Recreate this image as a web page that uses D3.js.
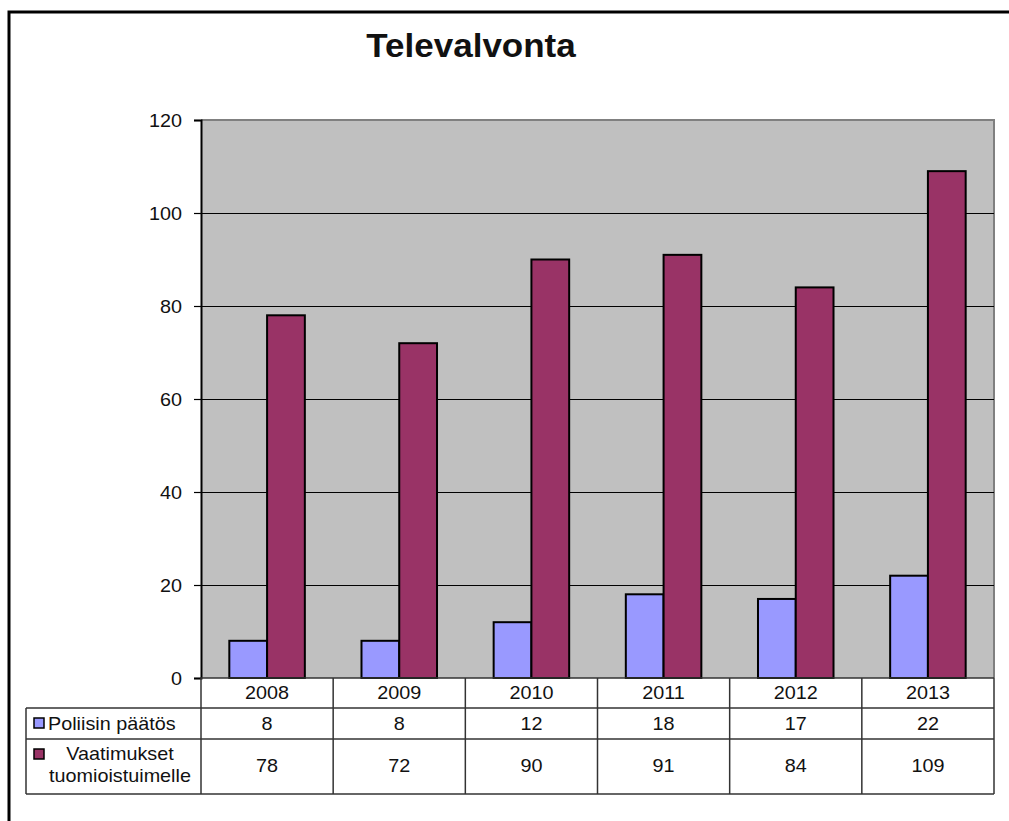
<!DOCTYPE html>
<html>
<head>
<meta charset="utf-8">
<script src="https://cdn.jsdelivr.net/npm/d3@7"></script>
<style>
  html, body { margin: 0; padding: 0; background: #fff; }
  svg { display: block; }
  text { font-family: "Liberation Sans", Arial, sans-serif; fill: #111; }
</style>
</head>
<body>
<svg id="chart" width="1009" height="821"></svg>
<script>
const title = "Televalvonta";
const categories = ["2008", "2009", "2010", "2011", "2012", "2013"];
const seriesNames = ["Poliisin päätös", "Vaatimukset tuomioistuimelle"];
const poliisin = [8, 8, 12, 18, 17, 22];
const vaatimukset = [78, 72, 90, 91, 84, 109];
const yTicks = [0, 20, 40, 60, 80, 100, 120];
const colors = ["#9999FF", "#993366"];

const svg = d3.select("#chart");
const plot = { left: 201, right: 994, top: 120, bottom: 678 };
const FS = 18, SX = 1.1;

function txt(g, x, y, s, anchor, size, weight, sx) {
  return g.append("text")
    .attr("transform", `translate(${x},${y}) scale(${sx || SX},1)`)
    .attr("text-anchor", anchor || "middle")
    .style("font-size", (size || FS) + "px")
    .style("font-weight", weight || "normal")
    .text(s);
}

// outer frame
svg.append("path").attr("d", "M9,821 V12 H1009").attr("fill", "none")
  .attr("stroke", "#000").attr("stroke-width", 3);

// title
txt(svg, 471, 57, title, "middle", 34, "bold", 1.03);

const x0 = d3.scaleBand().domain(categories).range([plot.left, plot.right]);
const bw = x0.bandwidth() / 3.5;
const x1 = d3.scaleBand().domain(seriesNames).range([0, 2 * bw]);
const y = d3.scaleLinear().domain([0, 120]).range([plot.bottom, plot.top]);

// plot area
svg.append("rect").attr("x", plot.left).attr("y", plot.top)
  .attr("width", plot.right - plot.left).attr("height", plot.bottom - plot.top)
  .attr("fill", "#C0C0C0");
svg.append("path").attr("d", `M${plot.left},${plot.top} H${plot.right} V${plot.bottom}`)
  .attr("fill", "none").attr("stroke", "#808080").attr("stroke-width", 2);

// gridlines
svg.append("g").selectAll("line").data(yTicks.filter(t => t > 0 && t < 120)).join("line")
  .attr("x1", plot.left).attr("x2", plot.right)
  .attr("y1", d => y(d) + 0.5).attr("y2", d => y(d) + 0.5)
  .attr("stroke", "#000").attr("stroke-width", 1)
  .attr("shape-rendering", "crispEdges");

// y axis
const yAxis = d3.axisLeft(y).tickValues(yTicks).tickSize(7).tickPadding(12).tickFormat(d3.format("d"));
const ga = svg.append("g").attr("transform", `translate(${plot.left},0)`).call(yAxis);
ga.select(".domain").attr("stroke", "#000").attr("stroke-width", 2);
ga.selectAll(".tick line").attr("stroke", "#000").attr("stroke-width", 1.2);
ga.selectAll(".tick text").remove();
ga.selectAll(".tick").each(function(d) {
  txt(d3.select(this), -19, 6, String(d), "end");
});

// bars
const series = [poliisin, vaatimukset];
series.forEach((vals, si) => {
  svg.append("g").selectAll("rect").data(vals).join("rect")
    .attr("x", (d, i) => x0(categories[i]) + x0.bandwidth() / 2 - bw + x1(seriesNames[si]))
    .attr("y", d => y(d))
    .attr("width", bw)
    .attr("height", d => y(0) - y(d))
    .attr("fill", colors[si])
    .attr("stroke", "#000").attr("stroke-width", 2);
});

// data table
const rows = [678, 708, 739, 794];
const tbl = svg.append("g");
const lineCol = "#333";
tbl.append("line").attr("x1", plot.left).attr("x2", plot.right).attr("y1", rows[0]).attr("y2", rows[0])
  .attr("stroke", lineCol).attr("stroke-width", 1.5);
[rows[1], rows[2], rows[3]].forEach(r => {
  tbl.append("line").attr("x1", 26).attr("x2", plot.right).attr("y1", r).attr("y2", r)
    .attr("stroke", lineCol).attr("stroke-width", 1.5);
});
const colEdges = categories.map(c => x0(c)).concat([plot.right]);
colEdges.forEach(xv => {
  tbl.append("line").attr("x1", xv).attr("x2", xv).attr("y1", rows[0]).attr("y2", rows[3])
    .attr("stroke", lineCol).attr("stroke-width", 1.5);
});
tbl.append("line").attr("x1", 26).attr("x2", 26).attr("y1", rows[1]).attr("y2", rows[3])
  .attr("stroke", lineCol).attr("stroke-width", 1.5);

categories.forEach(c => txt(tbl, x0(c) + x0.bandwidth() / 2, 699, c));
poliisin.forEach((v, i) => txt(tbl, x0(categories[i]) + x0.bandwidth() / 2, 730, String(v)));
vaatimukset.forEach((v, i) => txt(tbl, x0(categories[i]) + x0.bandwidth() / 2, 772, String(v)));

tbl.append("rect").attr("x", 34).attr("y", 718).attr("width", 10).attr("height", 10)
  .attr("fill", colors[0]).attr("stroke", "#000").attr("stroke-width", 1.5);
txt(tbl, 48, 730, seriesNames[0], "start");
tbl.append("rect").attr("x", 34).attr("y", 749).attr("width", 10).attr("height", 10)
  .attr("fill", colors[1]).attr("stroke", "#000").attr("stroke-width", 1.5);
const parts = seriesNames[1].split(" ");
txt(tbl, 120, 760, parts[0], "middle");
txt(tbl, 120, 782, parts[1], "middle");
</script>
</body>
</html>
